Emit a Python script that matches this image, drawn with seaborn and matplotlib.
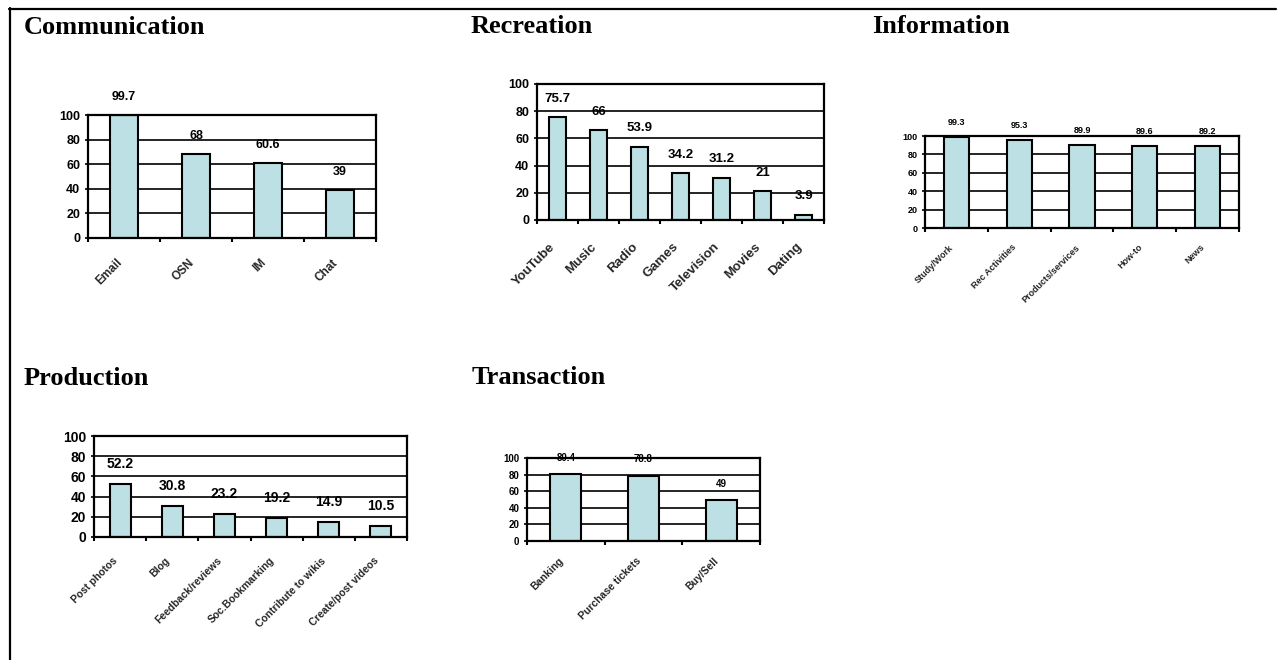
import matplotlib
matplotlib.use("Agg")
import matplotlib.pyplot as plt
from matplotlib.lines import Line2D
from matplotlib.ticker import FixedLocator, NullFormatter
from matplotlib.transforms import ScaledTranslation
import seaborn as sns
import pandas as pd

sns.set_theme(style="white")
plt.rcParams["font.family"] = ["Liberation Sans", "DejaVu Sans"]
plt.rcParams["font.weight"] = "bold"

# Share of users (%) per online activity, grouped by purpose
comm_labels = ["Email", "OSN", "IM", "Chat"]
comm_values = [99.7, 68, 60.6, 39]

rec_labels = ["YouTube", "Music", "Radio", "Games", "Television", "Movies", "Dating"]
rec_values = [75.7, 66, 53.9, 34.2, 31.2, 21, 3.9]

info_labels = ["Study/Work", "Rec Activities", "Products/services", "How-to", "News"]
info_values = [99.3, 95.3, 89.9, 89.6, 89.2]

prod_labels = ["Post photos", "Blog", "Feedback/reviews", "Soc.Bookmarking",
               "Contribute to wikis", "Create/post videos"]
prod_values = [52.2, 30.8, 23.2, 19.2, 14.9, 10.5]

trans_labels = ["Banking", "Purchase tickets", "Buy/Sell"]
trans_values = [80.4, 78.8, 49]

y_ticks = [0, 20, 40, 60, 80, 100]

BAR_COLOR = "#BCE0E3"
W, H = 1278, 660
fig = plt.figure(figsize=(W / 100, H / 100), dpi=100)
fig.patch.set_facecolor("white")


def px_axes(left, top, right, bottom):
    return fig.add_axes([left / W, 1 - bottom / H, (right - left) / W, (bottom - top) / H])


def title(text, x, y):
    fig.text(x / W, 1 - y / H, text, family=["Liberation Serif"], weight="bold",
             size=19, ha="left", va="baseline", color="black")


def panel(box, labels, values, val_size, tick_size, xlab_size, val_off_px, xpad_px):
    ax = px_axes(*box)
    df = pd.DataFrame({"item": labels, "pct": values})
    sns.barplot(data=df, x="item", y="pct", ax=ax, color=BAR_COLOR, width=0.4,
                saturation=1, edgecolor="black", linewidth=1.5, errorbar=None)
    n = len(labels)
    ax.set_xlim(-0.5, n - 0.5)
    ax.set_ylim(0, 100)
    ax.set_xlabel("")
    ax.set_ylabel("")
    ax.set_facecolor("white")

    ax.yaxis.set_major_locator(FixedLocator(y_ticks))
    ax.set_yticklabels([str(t) for t in y_ticks], fontsize=tick_size, fontweight="bold")
    ax.yaxis.grid(True, color="black", linewidth=1.2)
    ax.set_axisbelow(True)
    ax.tick_params(axis="y", direction="out", length=2.5, width=1.2, pad=3,
                   left=True, colors="black")

    ax.set_xticks(range(n))
    ax.set_xticklabels(labels, rotation=45, ha="right", rotation_mode="anchor",
                       fontsize=xlab_size, fontweight="bold", va="center")
    ax.tick_params(axis="x", which="major", length=0, pad=xpad_px * 0.72)
    shift = ScaledTranslation(-4 / 100, 0, fig.dpi_scale_trans)
    for lab in ax.get_xticklabels():
        lab.set_transform(lab.get_transform() + shift)
    ax.xaxis.set_minor_locator(FixedLocator([i - 0.5 for i in range(n + 1)]))
    ax.xaxis.set_minor_formatter(NullFormatter())
    ax.tick_params(axis="x", which="minor", direction="out", length=3, width=1.5,
                   bottom=True, colors="black")

    for sp in ax.spines.values():
        sp.set_visible(True)
        sp.set_color("black")
        sp.set_linewidth(1.6)

    for i, v in enumerate(values):
        ax.annotate(f"{v:g}", (i, v), xytext=(0, val_off_px * 0.72),
                    textcoords="offset points", ha="center", va="center",
                    fontsize=val_size, fontweight="bold", color="black")
    return ax


title("Communication", 24, 34)
panel((88, 115, 376, 238), comm_labels, comm_values, 9, 9, 8.5, 18, 23)

title("Recreation", 471, 33)
panel((537, 84, 824, 220), rec_labels, rec_values, 9.5, 9, 9.5, 18.5, 25)

title("Information", 872, 33)
panel((925, 136, 1239, 228), info_labels, info_values, 6.5, 6.5, 6.5, 14.5, 18)

title("Production", 24, 385)
panel((94, 436, 407, 537), prod_labels, prod_values, 10, 10, 7.5, 20, 22)

title("Transaction", 472, 384)
panel((527, 458, 760, 541), trans_labels, trans_values, 7, 7, 7.5, 16.5, 18.5)

# page frame: top and left rules
fig.add_artist(Line2D([9 / W, 1276 / W], [1 - 8.5 / H, 1 - 8.5 / H], color="black",
                      linewidth=1.6, transform=fig.transFigure))
fig.add_artist(Line2D([9.5 / W, 9.5 / W], [1 - 8 / H, 0], color="black",
                      linewidth=1.6, transform=fig.transFigure))

fig.savefig("out.png", dpi=100, facecolor="white")
